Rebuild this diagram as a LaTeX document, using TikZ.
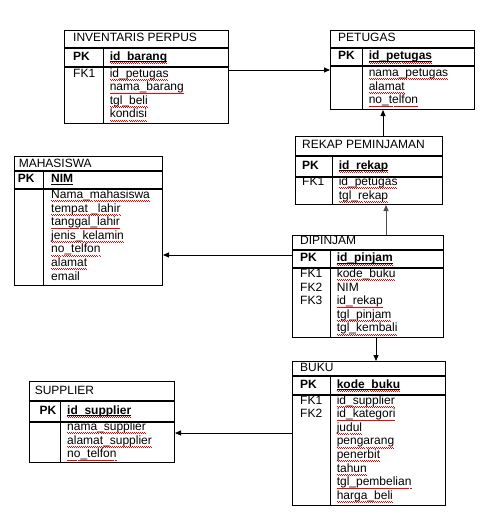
\documentclass[tikz,border=0pt]{standalone}
\usepackage{fontspec}
\setmainfont{Liberation Sans}
\usetikzlibrary{arrows.meta}
\newsavebox{\pkb}
\newsavebox{\sqb}
\newcommand{\pkbox}[1]{\sbox{\pkb}{\textbf{#1}}\rlap{\rule[-1.7pt]{\wd\pkb}{0.8pt}}\usebox{\pkb}}
\newcommand{\sq}[1]{\sbox{\sqb}{#1}\rlap{\color{red}\hbox to \wd\sqb{\xleaders\hbox{\rule[-2.6pt]{1pt}{0.7pt}\rule[-3.4pt]{1pt}{0.7pt}}\hfil}}\usebox{\sqb}}

\begin{document}
\begin{tikzpicture}[x=1pt,y=-1pt,line width=1pt,
  cell/.style={draw=black,rectangle,inner sep=0pt,anchor=north west},
  txt/.style={inner sep=0pt,anchor=base west,font=\fontsize{12}{13.6}\selectfont}]
\tikzstyle{rows} = [inner sep=0pt,anchor=north west,align=left,font=\fontsize{12}{13.6}\selectfont]
\tikzstyle{fk line} = [draw,line width=0.9pt,-{Triangle[length=6pt,width=5pt]}]

\useasboundingbox (0,0) rectangle (491,517);

% INVENTARIS PERPUS
\node[cell,minimum width=164,minimum height=17] (invt) at (64,30) {};
\node[cell,minimum width=164,minimum height=18] (invk) at (invt.south west) {};
\node[cell,minimum width=164,minimum height=56] (invb) at (invk.south west) {};
\draw (103,0 |- invk.north) -- (103,0 |- invb.south);
\node[txt] (invn) at (72.7,41.3) {INVENTARIS PERPUS};
\node[txt] (invpk) at (72.7,60.3) {\textbf{PK}};
\node[txt] (invid) at (109.3,60.3) {\sq{\pkbox{id\_barang}}};
\node[rows] (invfk) at (72.7,67) {\strut FK1};
\node[rows] (invf) at (109.3,67) {\strut\sq{id\_petugas}\\\sq{nama\_barang}\\\sq{tgl\_beli}\\\sq{kondisi}};

% PETUGAS
\node[cell,minimum width=144,minimum height=17] (pett) at (330,30) {};
\node[cell,minimum width=144,minimum height=17] (petk) at (pett.south west) {};
\node[cell,minimum width=144,minimum height=43] (petb) at (petk.south west) {};
\draw (362,0 |- petk.north) -- (362,0 |- petb.south);
\node[txt] (petn) at (337.7,41.3) {PETUGAS};
\node[txt] (petpk) at (337.7,59.8) {\textbf{PK}};
\node[txt] (petid) at (368.3,59.8) {\sq{\pkbox{id\_petugas}}};
\node[rows] (petf) at (368.3,66.5) {\strut\sq{nama\_petugas}\\\sq{alamat}\\\sq{no\_telfon}};

% REKAP PEMINJAMAN
\node[cell,minimum width=147,minimum height=19] (rekt) at (295,136) {};
\node[cell,minimum width=147,minimum height=20] (rekk) at (rekt.south west) {};
\node[cell,minimum width=147,minimum height=27] (rekb) at (rekk.south west) {};
\draw (332,0 |- rekk.north) -- (332,0 |- rekb.south);
\node[txt] (rekn) at (301.7,148.3) {REKAP PEMINJAMAN};
\node[txt] (rekpk) at (301.7,169.3) {\textbf{PK}};
\node[txt] (rekid) at (338.3,169.3) {\sq{\pkbox{id\_rekap}}};
\node[rows] (rekfk) at (301.7,175.5) {\strut FK1};
\node[rows] (rekf) at (338.3,175.5) {\strut\sq{id\_petugas}\\\sq{tgl\_rekap}};

% MAHASISWA
\node[cell,minimum width=148,minimum height=14] (mhst) at (14,156) {};
\node[cell,minimum width=148,minimum height=17] (mhsk) at (mhst.south west) {};
\node[cell,minimum width=148,minimum height=96] (mhsb) at (mhsk.south west) {};
\draw (43,0 |- mhsk.north) -- (43,0 |- mhsb.south);
\node[txt] (mhsn) at (18.3,167.8) {MAHASISWA};
\node[txt] (mhspk) at (17.3,182.8) {\textbf{PK}};
\node[txt] (mhsid) at (50.7,182.8) {\pkbox{NIM}};
\node[rows] (mhsf) at (50.7,188.5) {\strut\sq{Nama\_mahasiswa}\\\sq{tempat \_lahir}\\\sq{tanggal\_lahir}\\\sq{jenis\_kelamin}\\\sq{no\_telfon}\\\sq{alamat}\\email};

% DIPINJAM
\node[cell,minimum width=151,minimum height=14] (dipt) at (292,235) {};
\node[cell,minimum width=151,minimum height=17] (dipk) at (dipt.south west) {};
\node[cell,minimum width=151,minimum height=69] (dipb) at (dipk.south west) {};
\draw (330,0 |- dipk.north) -- (330,0 |- dipb.south);
\node[txt] (dipn) at (299.7,244.8) {DIPINJAM};
\node[txt] (dippk) at (299.7,261.8) {\textbf{PK}};
\node[txt] (dipid) at (336.3,261.8) {\sq{\pkbox{id\_pinjam}}};
\node[rows] (dipfk) at (299.7,267.5) {\strut FK1\\FK2\\FK3};
\node[rows] (dipf) at (336.3,267.5) {\strut\sq{kode\_buku}\\NIM\\\sq{id\_rekap}\\\sq{tgl\_pinjam}\\\sq{tgl\_kembali}};

% BUKU
\node[cell,minimum width=153,minimum height=14] (bukt) at (292,361) {};
\node[cell,minimum width=153,minimum height=18] (bukk) at (bukt.south west) {};
\node[cell,minimum width=153,minimum height=110] (bukb) at (bukk.south west) {};
\draw (330,0 |- bukk.north) -- (330,0 |- bukb.south);
\node[txt] (bukn) at (299.7,371.5) {BUKU};
\node[txt] (bukpk) at (299.7,388.3) {\textbf{PK}};
\node[txt] (bukid) at (336.3,388.3) {\sq{\pkbox{kode\_buku}}};
\node[rows] (bukfk) at (299.7,394) {\strut FK1\\FK2};
\node[rows] (bukf) at (336.3,394) {\strut\sq{id\_supplier}\\\sq{id\_kategori}\\\sq{judul}\\\sq{pengarang}\\\sq{penerbit}\\\sq{tahun}\\\sq{tgl\_pembelian}\\\sq{harga\_beli}};

% SUPPLIER
\node[cell,minimum width=145,minimum height=19] (supt) at (29,381) {};
\node[cell,minimum width=145,minimum height=20] (supk) at (supt.south west) {};
\node[cell,minimum width=145,minimum height=40] (supb) at (supk.south west) {};
\draw (60,0 |- supk.north) -- (60,0 |- supb.south);
\node[txt] (supn) at (34.3,394) {SUPPLIER};
\node[txt] (suppk) at (39,414.3) {\textbf{PK}};
\node[txt] (supid) at (66.7,414.3) {\sq{\pkbox{id\_supplier}}};
\node[rows] (supf) at (66.7,420.5) {\strut\sq{nama\_supplier}\\\sq{alamat\_supplier}\\\sq{no\_telfon}};

% relasi
\coordinate (invout) at ([yshift=-3pt]invb.north east);
\draw[fk line] (invout) -- (invout -| petb.west);
\draw[fk line] (rekt.north -| 383,0) -- (petb.south -| 383,0);
\draw[fk line,draw=black!70] (dipt.north -| 386,0) -- (rekb.south -| 386,0);
\draw[fk line] (dipk.west |- 0,255) -- (mhsb.east |- 0,255);
\draw[fk line] (dipb.south -| 376,0) -- (bukt.north -| 376,0);
\draw[fk line] (bukb.west |- 0,433) -- (supb.east |- 0,433);
\end{tikzpicture}
\end{document}
